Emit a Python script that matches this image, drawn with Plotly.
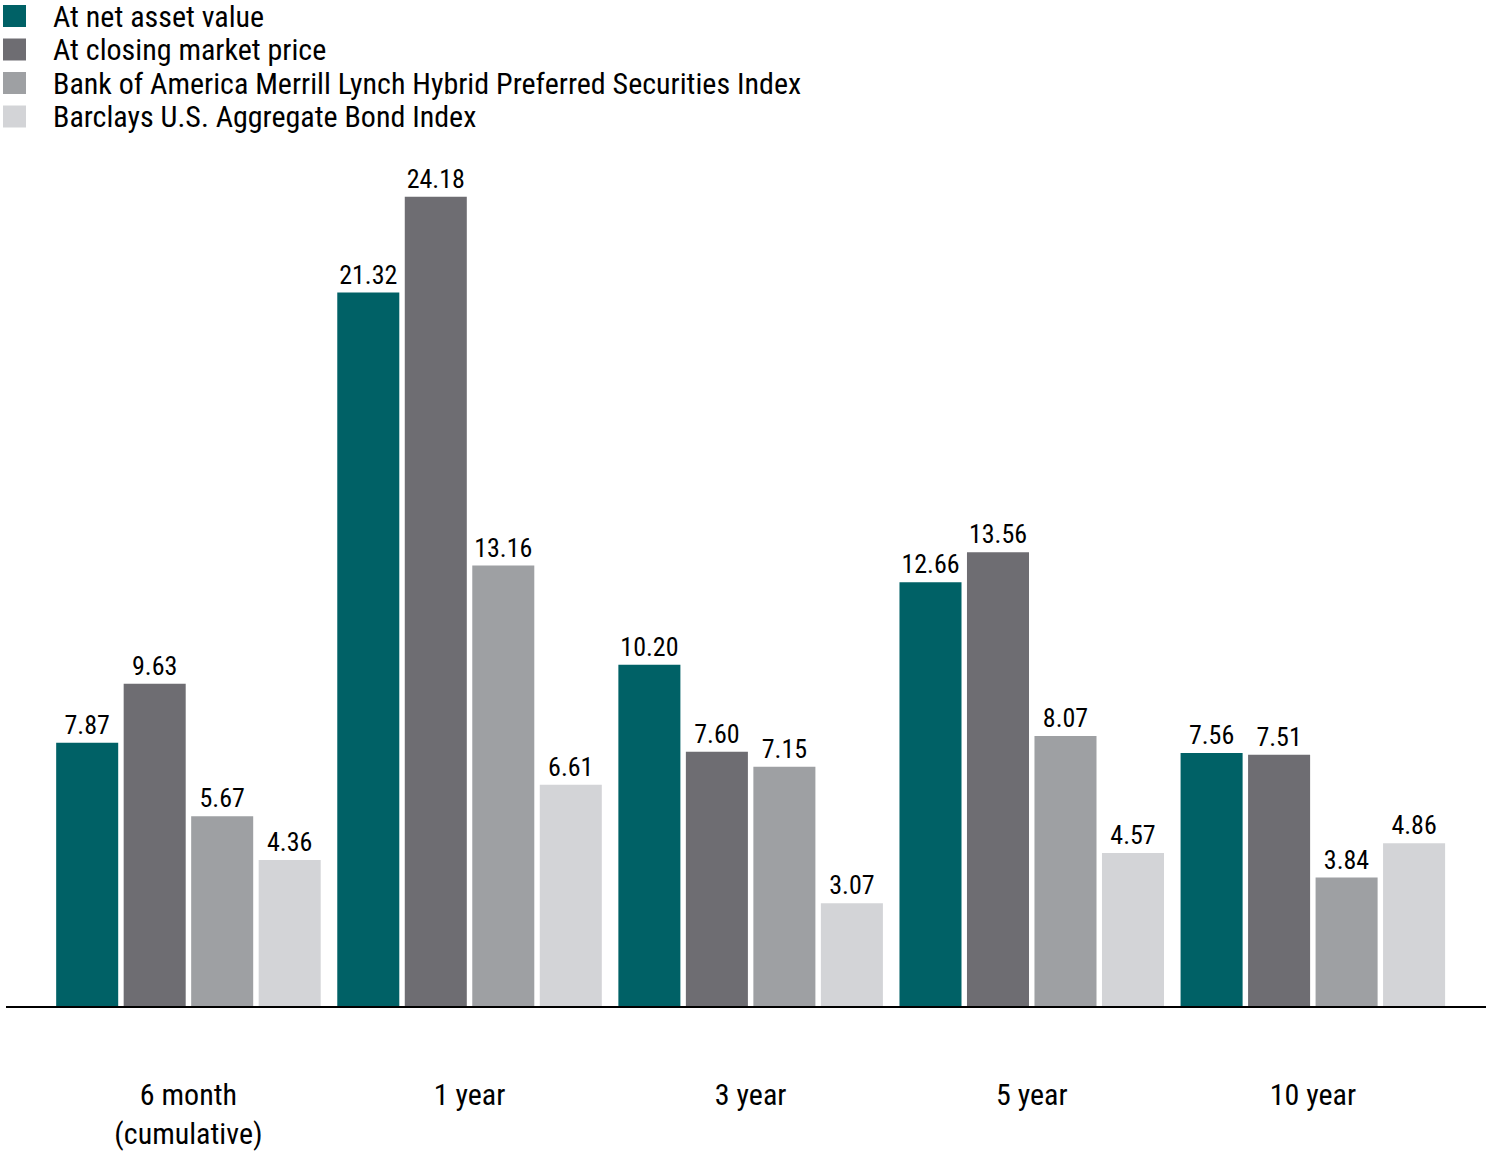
import plotly.graph_objects as go

categories = ["6 month<br>(cumulative)", "1 year", "3 year", "5 year", "10 year"]
series_names = [
    "At net asset value",
    "At closing market price",
    "Bank of America Merrill Lynch Hybrid Preferred Securities Index",
    "Barclays U.S. Aggregate Bond Index",
]
nav = [7.87, 21.32, 10.20, 12.66, 7.56]
market = [9.63, 24.18, 7.60, 13.56, 7.51]
baml = [5.67, 13.16, 7.15, 8.07, 3.84]
barclays = [4.36, 6.61, 3.07, 4.57, 4.86]
colors = ["#006166", "#6e6d72", "#9ea0a3", "#d3d4d7"]

FONT = "Roboto Condensed, DejaVu Sans Condensed, sans-serif"

W, H = 1486, 1153
L, R, T, B = 6, 0, 150, 147
PW, PH = W - L - R, H - T - B

fig = go.Figure()
for name, vals, col in zip(series_names, [nav, market, baml, barclays], colors):
    fig.add_trace(go.Bar(
        x=list(range(len(categories))), y=vals, name=name,
        marker=dict(color=col, line=dict(width=0)),
        texttemplate="%{y:.2f}", textposition="outside",
        textfont=dict(family=FONT, size=26, color="#000000"),
        constraintext="none", cliponaxis=False, showlegend=False,
    ))

def px(x):
    return (x - L) / PW

def py(y):
    return 1 + (T - y) / PH

# manual legend (large square swatches like the reference)
for i, (name, col) in enumerate(zip(series_names, colors)):
    yc = 16 + i * 33.5
    fig.add_shape(type="rect", xref="paper", yref="paper",
                  x0=px(3), x1=px(26), y0=py(yc - 11), y1=py(yc + 11),
                  fillcolor=col, line=dict(width=0), layer="above")
    fig.add_annotation(xref="paper", yref="paper", x=px(51),
                       y=py(yc), xanchor="left", yanchor="middle",
                       text=name, showarrow=False,
                       font=dict(family=FONT, size=30, color="#000000"))

fig.update_layout(
    width=W, height=H,
    margin=dict(l=L, r=R, t=T, b=B, autoexpand=False),
    paper_bgcolor="white", plot_bgcolor="white",
    barmode="group", bargap=0.0395, bargroupgap=0.081,
    xaxis=dict(range=[-0.649, 4.616], tickmode="array", automargin=False,
               tickvals=list(range(len(categories))), ticktext=categories,
               showline=True, linecolor="#000000", linewidth=1.5,
               ticks="outside", ticklen=61, tickcolor="rgba(0,0,0,0)",
               showgrid=False, zeroline=False,
               tickfont=dict(family=FONT, size=30, color="#000000")),
    yaxis=dict(range=[0, 25.58], visible=False, showgrid=False, zeroline=False,
               automargin=False),
)

fig.write_html("out.html", config={"displayModeBar": False},
               post_script="document.body.style.margin='0';document.body.style.overflow='hidden';")
